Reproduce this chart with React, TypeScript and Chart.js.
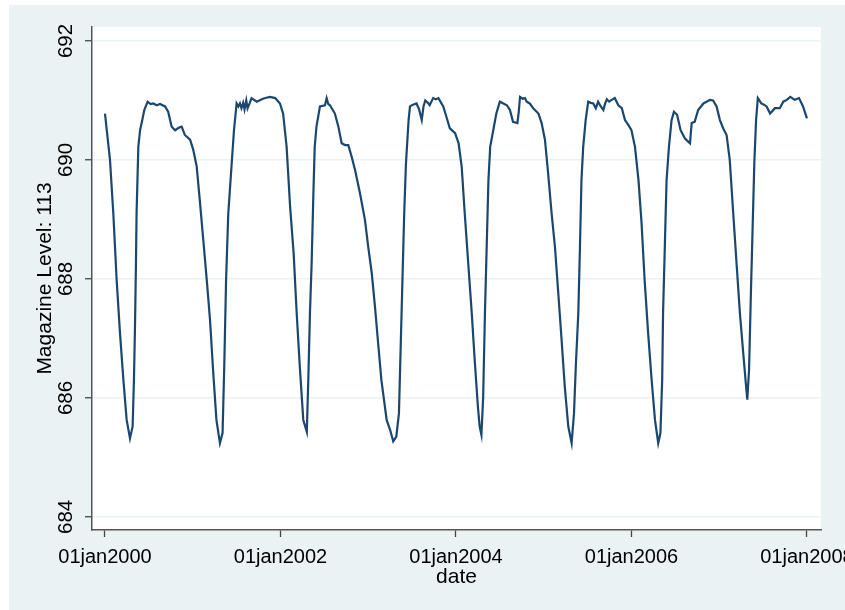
import React, { useEffect, useRef } from "react";
import { Chart, registerables } from "chart.js";

Chart.register(...registerables);

// decimal years of each observation
const dates: number[] = [
  2000.000, 2000.057, 2000.095, 2000.133, 2000.171, 2000.210, 2000.247, 2000.285, 2000.315, 2000.330,
  2000.342, 2000.353, 2000.360, 2000.380, 2000.400, 2000.425, 2000.448, 2000.486, 2000.520, 2000.550,
  2000.590, 2000.627, 2000.684, 2000.720, 2000.760, 2000.800, 2000.840, 2000.874, 2000.910, 2000.970,
  2001.006, 2001.045, 2001.080, 2001.120, 2001.160, 2001.197, 2001.234, 2001.270, 2001.310, 2001.340,
  2001.360, 2001.380, 2001.405, 2001.444, 2001.470, 2001.500, 2001.520, 2001.538, 2001.555, 2001.575,
  2001.590, 2001.610, 2001.625, 2001.650, 2001.670, 2001.730, 2001.800, 2001.850, 2001.880, 2001.940,
  2001.994, 2002.030, 2002.070, 2002.110, 2002.150, 2002.185, 2002.220, 2002.260, 2002.300, 2002.317,
  2002.336, 2002.355, 2002.374, 2002.390, 2002.410, 2002.450, 2002.507, 2002.526, 2002.545, 2002.564,
  2002.620, 2002.660, 2002.697, 2002.735, 2002.773, 2002.810, 2002.850, 2002.906, 2002.963, 2003.000,
  2003.040, 2003.077, 2003.110, 2003.150, 2003.210, 2003.250, 2003.285, 2003.320, 2003.350, 2003.370,
  2003.390, 2003.410, 2003.430, 2003.460, 2003.476, 2003.510, 2003.550, 2003.580, 2003.610, 2003.630,
  2003.650, 2003.680, 2003.700, 2003.740, 2003.770, 2003.800, 2003.855, 2003.890, 2003.930, 2003.990,
  2004.030, 2004.065, 2004.100, 2004.140, 2004.180, 2004.216, 2004.250, 2004.270, 2004.290, 2004.310,
  2004.330, 2004.350, 2004.370, 2004.390, 2004.425, 2004.460, 2004.500, 2004.540, 2004.580, 2004.615,
  2004.650, 2004.700, 2004.715, 2004.730, 2004.760, 2004.786, 2004.806, 2004.840, 2004.880, 2004.940,
  2004.976, 2005.014, 2005.050, 2005.090, 2005.128, 2005.166, 2005.204, 2005.240, 2005.280, 2005.318,
  2005.345, 2005.367, 2005.394, 2005.413, 2005.430, 2005.450, 2005.478, 2005.507, 2005.535, 2005.565,
  2005.594, 2005.620, 2005.650, 2005.680, 2005.700, 2005.720, 2005.745, 2005.774, 2005.810, 2005.850,
  2005.890, 2005.926, 2005.964, 2006.000, 2006.040, 2006.080, 2006.115, 2006.150, 2006.190, 2006.230,
  2006.268, 2006.305, 2006.330, 2006.350, 2006.360, 2006.380, 2006.400, 2006.427, 2006.457, 2006.484,
  2006.520, 2006.560, 2006.610, 2006.667, 2006.686, 2006.720, 2006.760, 2006.820, 2006.895, 2006.930,
  2006.970, 2007.008, 2007.046, 2007.084, 2007.120, 2007.160, 2007.200, 2007.236, 2007.274, 2007.300,
  2007.320, 2007.340, 2007.360, 2007.380, 2007.400, 2007.420, 2007.440, 2007.480, 2007.510, 2007.540,
  2007.580, 2007.635, 2007.690, 2007.730, 2007.770, 2007.810, 2007.860, 2007.910, 2007.955, 2008.000,
];

// magazine level values
const levels: number[] = [
  690.78, 690.00, 689.10, 687.98, 687.09, 686.30, 685.63, 685.32, 685.52, 686.30,
  687.20, 688.27, 689.10, 690.22, 690.50, 690.67, 690.84, 690.98, 690.94, 690.95,
  690.92, 690.94, 690.90, 690.81, 690.56, 690.50, 690.54, 690.56, 690.42, 690.34,
  690.17, 689.89, 689.33, 688.66, 687.98, 687.31, 686.42, 685.63, 685.24, 685.41,
  686.58, 687.98, 689.10, 689.94, 690.50, 690.95, 690.90, 690.95, 690.87, 690.96,
  690.85, 691.00, 690.87, 690.96, 691.04, 690.98, 691.03, 691.05, 691.06, 691.04,
  690.95, 690.78, 690.22, 689.21, 688.43, 687.42, 686.53, 685.63, 685.43, 686.30,
  687.43, 688.26, 689.38, 690.22, 690.56, 690.90, 690.92, 691.04, 690.94, 690.92,
  690.78, 690.56, 690.28, 690.25, 690.25, 690.06, 689.83, 689.44, 688.99, 688.54,
  688.10, 687.53, 686.97, 686.30, 685.63, 685.46, 685.27, 685.35, 685.74, 686.86,
  687.98, 689.10, 689.94, 690.67, 690.90, 690.93, 690.95, 690.85, 690.67, 690.90,
  691.00, 690.96, 690.92, 691.04, 691.02, 691.04, 690.90, 690.73, 690.53, 690.45,
  690.28, 689.89, 689.10, 688.26, 687.42, 686.58, 685.85, 685.52, 685.38, 686.02,
  687.42, 688.54, 689.66, 690.22, 690.50, 690.78, 690.98, 690.95, 690.92, 690.84,
  690.64, 690.62, 690.80, 691.06, 691.03, 691.04, 690.98, 690.95, 690.87, 690.78,
  690.62, 690.34, 689.78, 689.10, 688.54, 687.76, 686.97, 686.19, 685.52, 685.24,
  685.74, 686.58, 687.42, 688.54, 689.66, 690.22, 690.67, 690.98, 690.96, 690.95,
  690.87, 690.98, 690.90, 690.84, 690.95, 691.02, 690.98, 691.01, 691.04, 690.92,
  690.87, 690.67, 690.59, 690.50, 690.22, 689.66, 688.94, 687.98, 687.09, 686.30,
  685.63, 685.24, 685.41, 686.30, 687.42, 688.54, 689.66, 690.22, 690.67, 690.81,
  690.76, 690.50, 690.36, 690.28, 690.62, 690.64, 690.84, 690.95, 691.01, 691.00,
  690.90, 690.67, 690.53, 690.42, 690.00, 689.10, 688.21, 687.42, 686.75, 686.30,
  685.97, 686.47, 687.70, 688.82, 689.94, 690.67, 691.04, 690.95, 690.93, 690.90,
  690.78, 690.87, 690.87, 690.98, 691.01, 691.06, 691.01, 691.04, 690.90, 690.70,
];

const yTicks: number[] = [684, 686, 688, 690, 692];
const xTicks: number[] = [2000, 2002, 2004, 2006, 2008];
const xTickLabels: string[] = ["01jan2000", "01jan2002", "01jan2004", "01jan2006", "01jan2008"];
const yTitle = "Magazine Level: 113";
const xTitle = "date";

const FONT = '"Liberation Sans", Arial, sans-serif';

const labelPlugin = {
  id: "stataLabels",
  beforeDraw(chart: any) {
    const { ctx, chartArea } = chart;
    ctx.save();
    ctx.fillStyle = "#ffffff";
    ctx.fillRect(chartArea.left, chartArea.top, chartArea.right - chartArea.left, chartArea.bottom - chartArea.top);
    ctx.restore();
  },
  afterDraw(chart: any) {
    const { ctx, chartArea } = chart;
    const xs = chart.scales.x;
    const ys = chart.scales.y;
    ctx.save();
    ctx.fillStyle = "#000000";
    ctx.textAlign = "center";
    ctx.textBaseline = "alphabetic";
    // x tick labels
    ctx.font = `20px ${FONT}`;
    xTicks.forEach((v, i) => {
      const px = xs.getPixelForValue(v);
      ctx.fillText(xTickLabels[i], px, 558);
    });
    // y tick labels (rotated)
    ctx.font = `20.5px ${FONT}`;
    yTicks.forEach((v) => {
      const py = ys.getPixelForValue(v);
      ctx.save();
      ctx.translate(63, py);
      ctx.rotate(-Math.PI / 2);
      ctx.fillText(String(v), 0, 0);
      ctx.restore();
    });
    // titles
    ctx.font = `21px ${FONT}`;
    ctx.fillText(xTitle, (chartArea.left + chartArea.right) / 2, 578);
    ctx.save();
    ctx.translate(42, (chartArea.top + chartArea.bottom) / 2);
    ctx.rotate(-Math.PI / 2);
    ctx.fillText(yTitle, 0, 0);
    ctx.restore();
    ctx.restore();
  },
};

export default function App() {
  const ref = useRef<HTMLCanvasElement | null>(null);
  useEffect(() => {
    if (!ref.current) return;
    const chart = new Chart(ref.current, {
      type: "line",
      data: {
        datasets: [
          {
            data: dates.map((d, i) => ({ x: d, y: levels[i] })),
            borderColor: "#1a476f",
            borderWidth: 2.2,
            pointRadius: 0,
            tension: 0,
            fill: false,
          },
        ],
      },
      options: {
        animation: false,
        responsive: false,
        devicePixelRatio: 1,
        layout: { padding: { left: 0, top: 22, right: 24, bottom: 0 } },
        plugins: { legend: { display: false }, tooltip: { enabled: false } },
        scales: {
          x: {
            type: "linear",
            min: 1999.852,
            max: 2008.16,
            afterBuildTicks: (s: any) => {
              s.ticks = xTicks.map((v) => ({ value: v }));
            },
            afterFit: (s: any) => {
              s.height = 80;
            },
            ticks: { display: false },
            grid: { drawOnChartArea: false, drawTicks: true, tickLength: 7, tickColor: "#444444", tickWidth: 1.3 },
            border: { color: "#555555", width: 1.5 },
          },
          y: {
            type: "linear",
            min: 683.78,
            max: 692.235,
            afterBuildTicks: (s: any) => {
              s.ticks = yTicks.map((v) => ({ value: v }));
            },
            afterFit: (s: any) => {
              s.width = 83;
            },
            ticks: { display: false },
            grid: { color: "#eaf2f3", lineWidth: 1.5, drawTicks: true, tickLength: 7, tickColor: "#444444", tickWidth: 1.3 },
            border: { color: "#555555", width: 1.5 },
          },
        },
      },
      plugins: [labelPlugin],
    } as any);
    return () => chart.destroy();
  }, []);
  return (
    <div style={{ position: "absolute", left: 9, top: 5, width: 836, height: 605, background: "#eaf2f3" }}>
      <canvas ref={ref} width={836} height={605} style={{ display: "block" }} />
    </div>
  );
}
